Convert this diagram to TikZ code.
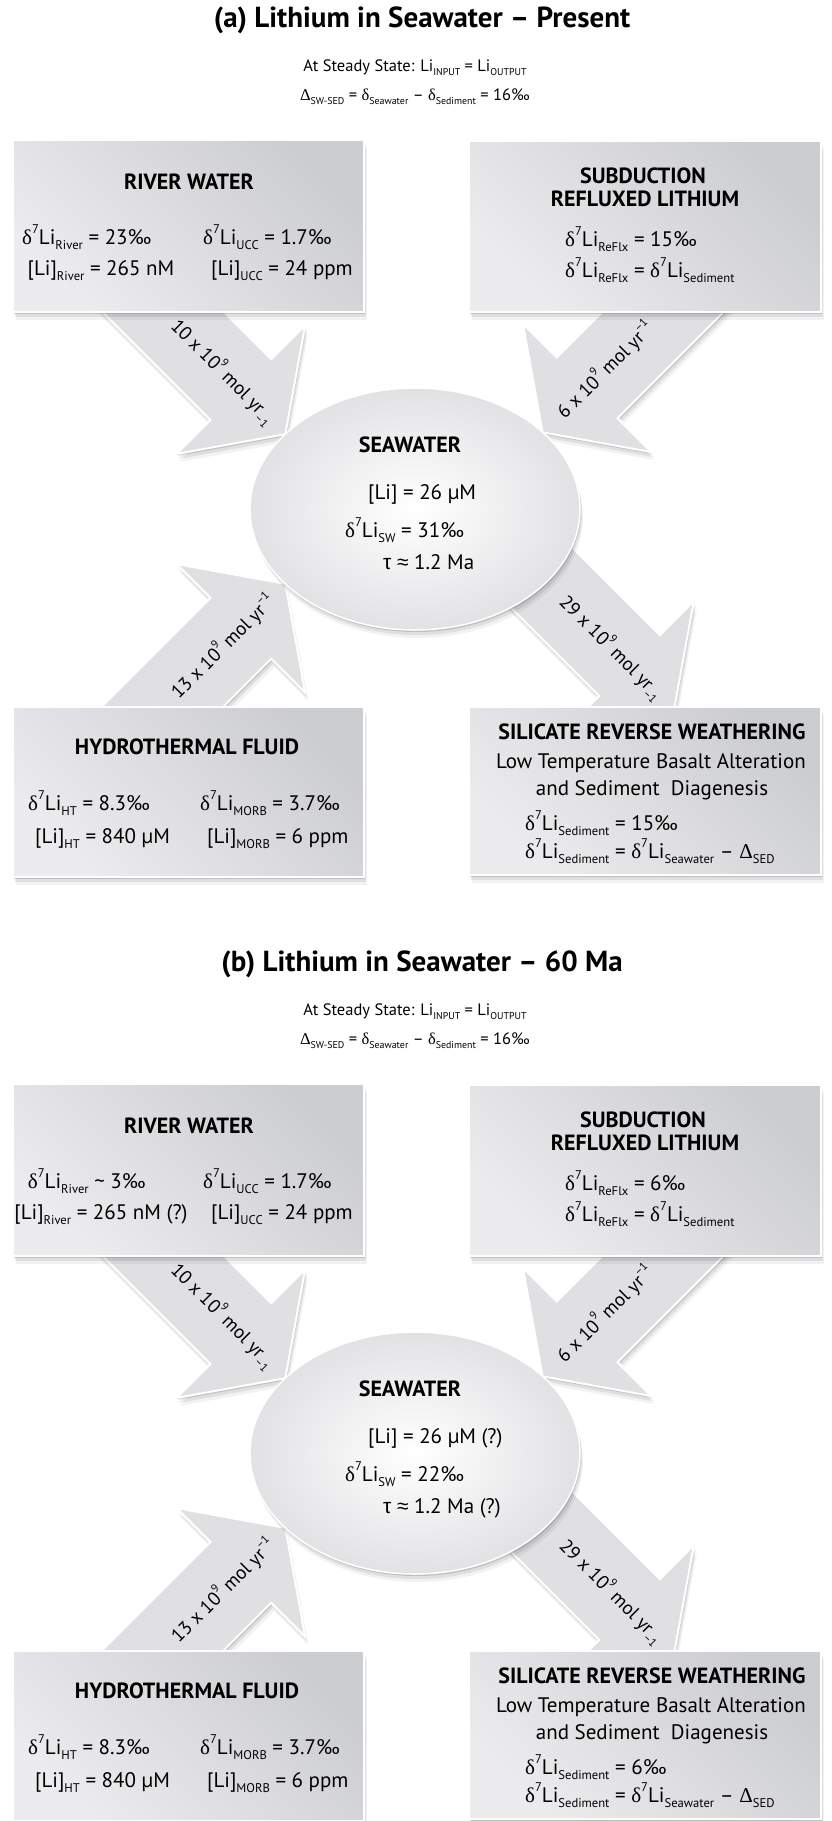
\documentclass[tikz,border=0pt]{standalone}
\usepackage{fontspec}
\usepackage{graphicx}
\setmainfont{PT Sans}
\newfontfamily\grkfont{Liberation Serif}
\newfontfamily\symfont{Liberation Sans}
\usetikzlibrary{calc,shadows,backgrounds,shapes.geometric}

\definecolor{boxdark}{RGB}{204,205,208}
\definecolor{boxlight}{RGB}{236,236,238}
\definecolor{ellout}{RGB}{226,226,229}
\definecolor{arrowfill}{RGB}{224,224,227}

\newcommand{\dlt}{{\grkfont δ}}
\newcommand{\Dlt}{{\grkfont Δ}}
\newcommand{\tu}{{\symfont τ}}
\newcommand{\apx}{{\symfont ≈}}
\newcommand{\sbs}[1]{\raisebox{-.28em}{\scalebox{.6}{#1}}}
\newcommand{\sps}[1]{\raisebox{.5em}{\scalebox{.6}{#1}}}
\newcommand{\dli}{\dlt\sps{7}Li}

\tikzset{
  softshadow/.style={
    drop shadow={shadow xshift=1pt,shadow yshift=-2pt,opacity=.14,fill=black},
    drop shadow={shadow xshift=2pt,shadow yshift=-5pt,opacity=.08,fill=black},
    drop shadow={shadow xshift=3pt,shadow yshift=-8pt,opacity=.05,fill=black}},
  resbox/.style={rectangle, outer sep=0pt, draw=white, line width=2.5pt,
    top color=boxdark, bottom color=boxlight, shading angle=-45, softshadow},
  seabox/.style={ellipse, outer sep=0pt, minimum width=330pt, minimum height=242pt,
    draw=white, line width=1.5pt, inner color=white, outer color=ellout, softshadow},
  flux/.style={fill=arrowfill, draw=white, line width=2pt, line join=miter, softshadow},
  bodytext/.style={font=\fontsize{21}{25}\selectfont, inner sep=0pt},
  toptext/.style={font=\fontsize{16.5}{20}\selectfont, inner sep=0pt},
  headtext/.style={font=\fontsize{22}{26}\selectfont\bfseries, inner sep=0pt},
  titletext/.style={font=\fontsize{29}{34}\selectfont\bfseries, inner sep=0pt},
  fluxlabel/.style={font=\fontsize{19}{22}\selectfont, inner sep=0pt}
}

% block arrow: tail, tip, label name, label
\newcommand{\fluxarrow}[4]{%
  \coordinate (fb) at ($(#2)!63pt!(#1)$);
  \path[flux] ($(#1)!43pt!90:(#2)$) -- ($(fb)!43pt!90:(#2)$) -- ($(fb)!91pt!90:(#2)$)
    -- (#2) -- ($(fb)!91pt!-90:(#2)$) -- ($(fb)!43pt!-90:(#2)$) -- ($(#1)!43pt!-90:(#2)$) -- cycle;
  \path (#1) -- (#2) node[fluxlabel, pos=.66, sloped] (#3) {#4};
}

% one panel: prefix, title, river delta, river [Li], reflux delta, sw [Li], sw delta, sw tau, sediment delta
\newcommand{\lipanel}[9]{%
  \node[titletext, anchor=base] (#1-title) at (422,27) {#2};
  \node[toptext, anchor=base] (#1-steady) at (415,71) {At Steady State: Li\sbs{INPUT} = Li\sbs{OUTPUT}};
  \node[toptext, anchor=base] (#1-balance) at (415,100) {\Dlt\sbs{SW-SED} = \dlt\sbs{Seawater} – \dlt\sbs{Sediment} = 16‰};
  % reservoirs
  \node[resbox, minimum width=351pt, minimum height=172pt] (#1-river) at (188.5,226) {};
  \node[resbox, minimum width=352pt, minimum height=171pt] (#1-reflux) at (645,226.5) {};
  \node[resbox, minimum width=351pt, minimum height=170pt] (#1-hydro) at (188.5,792) {};
  \node[resbox, minimum width=352pt, minimum height=168pt] (#1-sed) at (645,791) {};
  \node[seabox] (#1-sw) at (415,509) {};
  % river water
  \node[headtext, anchor=base] (#1-riverhead) at (189,189) {RIVER WATER};
  \node[bodytext, anchor=base] (#1-riverd) at (87,244) {#3};
  \node[bodytext, anchor=base] (#1-riverc) at (101,275) {#4};
  \node[bodytext, anchor=base west] (#1-uccd) at (203,244) {\dli\sbs{UCC} = 1.7‰};
  \node[bodytext, anchor=base west] (#1-uccc) at (211,275) {[Li]\sbs{UCC} = 24 ppm};
  % subduction
  \node[headtext, anchor=base] (#1-refluxhead) at (643,183) {SUBDUCTION};
  \node[headtext, anchor=base] (#1-refluxhead2) at (645,206) {REFLUXED LITHIUM};
  \node[bodytext, anchor=base west] (#1-refluxd) at (565,246) {#5};
  \node[bodytext, anchor=base west] (#1-refluxeq) at (565,277) {\dli\sbs{ReFlx} = \dli\sbs{Sediment}};
  % seawater
  \node[headtext, anchor=base] (#1-swhead) at (410,452) {SEAWATER};
  \node[bodytext, anchor=base west] (#1-swc) at (368,499) {#6};
  \node[bodytext, anchor=base west] (#1-swd) at (345,537) {#7};
  \node[bodytext, anchor=base west] (#1-swt) at (383,569) {#8};
  % hydrothermal
  \node[headtext, anchor=base] (#1-hydrohead) at (187,754) {HYDROTHERMAL FLUID};
  \node[bodytext, anchor=base west] (#1-htd) at (28,810) {\dli\sbs{HT} = 8.3‰};
  \node[bodytext, anchor=base west] (#1-htc) at (35,843) {[Li]\sbs{HT} = 840 µM};
  \node[bodytext, anchor=base west] (#1-morbd) at (200,810) {\dli\sbs{MORB} = 3.7‰};
  \node[bodytext, anchor=base west] (#1-morbc) at (207,843) {[Li]\sbs{MORB} = 6 ppm};
  % reverse weathering
  \node[headtext, anchor=base] (#1-sedhead) at (652,739) {SILICATE REVERSE WEATHERING};
  \node[bodytext, anchor=base] (#1-sedsub) at (651,768) {Low Temperature Basalt Alteration};
  \node[bodytext, anchor=base] (#1-sedsub2) at (652,795) {and Sediment\ \ Diagenesis};
  \node[bodytext, anchor=base west] (#1-sedd) at (525,830) {#9};
  \node[bodytext, anchor=base west] (#1-sedeq) at (525,858) {\dli\sbs{Sediment} = \dli\sbs{Seawater} – \Dlt\sbs{SED}};
  % fluxes
  \coordinate (#1-tip1) at (#1-sw.150);
  \coordinate (#1-tail1) at ($(#1-tip1)+(135:260pt)$);
  \coordinate (#1-tip2) at (#1-sw.31);
  \coordinate (#1-tail2) at ($(#1-tip2)+(45:260pt)$);
  \coordinate (#1-tip3) at (#1-sw.210);
  \coordinate (#1-tail3) at ($(#1-tip3)+(225:260pt)$);
  \coordinate (#1-tip4) at ($(#1-sed.north)+(29,3)$);
  \coordinate (#1-tail4) at ($(#1-tip4)+(135:260pt)$);
  \begin{pgfonlayer}{background}
    \fluxarrow{#1-tail1}{#1-tip1}{#1-riverflux}{10 x 10\sps{9} mol yr\sbs{–1}}
    \fluxarrow{#1-tail2}{#1-tip2}{#1-refluxflux}{6 x 10\sps{9} mol yr\sps{–1}}
    \fluxarrow{#1-tail3}{#1-tip3}{#1-hydroflux}{13 x 10\sps{9} mol yr\sps{–1}}
    \fluxarrow{#1-tail4}{#1-tip4}{#1-sedflux}{29 x 10\sps{9} mol yr\sbs{–1}}
  \end{pgfonlayer}
}

\begin{document}
\begin{tikzpicture}[x=1pt, y=-1pt]
  \useasboundingbox (0,0) rectangle (831,1821);
  \lipanel{a}{(a) Lithium in Seawater – Present}{\dli\sbs{River} = 23‰}{[Li]\sbs{River} = 265 nM}{\dli\sbs{ReFlx} = 15‰}{[Li] = 26 µM}{\dli\sbs{SW} = 31‰}{\tu\ \apx\ 1.2 Ma}{\dli\sbs{Sediment} = 15‰}
  \begin{scope}[shift={(0,944)}]
    \lipanel{b}{(b) Lithium in Seawater – 60 Ma}{\dli\sbs{River} \textasciitilde\ 3‰}{[Li]\sbs{River} = 265 nM (?)}{\dli\sbs{ReFlx} = 6‰}{[Li] = 26 µM (?)}{\dli\sbs{SW} = 22‰}{\tu\ \apx\ 1.2 Ma (?)}{\dli\sbs{Sediment} = 6‰}
  \end{scope}
\end{tikzpicture}
\end{document}
